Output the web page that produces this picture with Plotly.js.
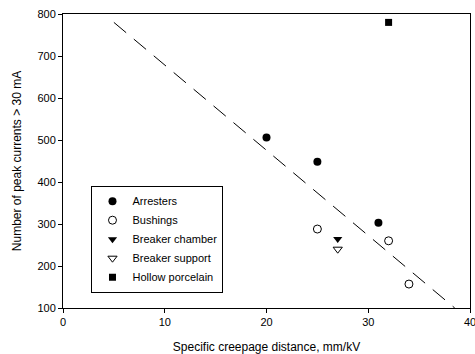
<!DOCTYPE html>
<html><head><meta charset="utf-8">
<script src="https://cdn.plot.ly/plotly-3.0.1.min.js"></script>
<style>html,body{margin:0;padding:0;background:#fff}#c{width:475px;height:354px}</style>
</head><body><div id="c"></div>
<script>
const arrestersX = [20, 25, 31];
const arrestersY = [506, 448, 303];
const bushingsX = [25, 32, 34];
const bushingsY = [288, 260, 157];
const chamberX = [27];
const chamberY = [264];
const supportX = [27];
const supportY = [240];
const hollowX = [32];
const hollowY = [780];
const fitX = [5, 38.5];
const fitY = [780, 100];
const xTicks = [0, 10, 20, 30, 40];
const yTicks = [100, 200, 300, 400, 500, 600, 700, 800];

const F = 'Arial, "Liberation Sans", sans-serif';
const traces = [
  {x: fitX, y: fitY, mode: 'lines', line: {color: '#000', width: 1, dash: '16px,10px'}, showlegend: false, hoverinfo: 'skip'},
  {x: arrestersX, y: arrestersY, mode: 'markers', name: 'Arresters', marker: {symbol: 'circle', size: 8, color: '#000'}},
  {x: bushingsX, y: bushingsY, mode: 'markers', name: 'Bushings', marker: {symbol: 'circle-open', size: 8, color: '#000', line: {width: 1}}},
  {x: chamberX, y: chamberY, mode: 'markers', name: 'Breaker chamber', marker: {symbol: 'triangle-down', size: 8, color: '#000'}},
  {x: supportX, y: supportY, mode: 'markers', name: 'Breaker support', marker: {symbol: 'triangle-down-open', size: 8, color: '#000', line: {width: 1}}},
  {x: hollowX, y: hollowY, mode: 'markers', name: 'Hollow porcelain', marker: {symbol: 'square', size: 7, color: '#000'}}
];
const layout = {
  width: 475, height: 354,
  margin: {l: 63, r: 5, t: 14, b: 46},
  paper_bgcolor: '#fff', plot_bgcolor: '#fff',
  font: {family: F, size: 11, color: '#000'},
  showlegend: true,
  legend: {x: 0.07, y: 0.416, xanchor: 'left', yanchor: 'top', bordercolor: '#000', borderwidth: 1, bgcolor: '#fff', font: {family: F, size: 11}, tracegroupgap: 0},
  xaxis: {range: [0, 40], tickvals: xTicks, ticks: 'outside', ticklen: 4, tickcolor: '#000', showline: true, linecolor: '#000', linewidth: 1, mirror: true, showgrid: false, zeroline: false,
    ticklabeloverflow: 'allow',
    title: {text: 'Specific creepage distance, mm/kV', font: {family: F, size: 12}, standoff: 15}, tickfont: {family: F, size: 11}},
  yaxis: {range: [100, 800], tickvals: yTicks, ticks: 'outside', ticklen: 4, tickcolor: '#000', showline: true, linecolor: '#000', linewidth: 1, mirror: true, showgrid: false, zeroline: false,
    title: {text: 'Number of peak currents > 30 mA', font: {family: F, size: 12}, standoff: 13}, tickfont: {family: F, size: 11}}
};
Plotly.newPlot('c', traces, layout, {displayModeBar: false, staticPlot: true});
</script></body></html>
